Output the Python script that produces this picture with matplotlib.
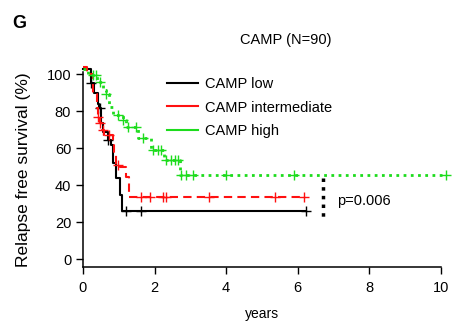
import matplotlib
matplotlib.use("Agg")
import matplotlib.pyplot as plt
from matplotlib.lines import Line2D
import numpy as np

plt.rcParams['font.family'] = ['Liberation Sans', 'DejaVu Sans']

# step curves (time in years, survival %)
low_t = [0, 0.22, 0.32, 0.41, 0.46, 0.50, 0.55, 0.69, 0.78, 0.84, 0.93, 1.03, 1.09, 6.23]
low_s = [103, 95, 89.7, 84, 81.6, 73.5, 68.8, 64.3, 61.6, 51.9, 43.8, 34.6, 26.0, 26.0]
low_cens = [0.23, 0.47, 0.70, 1.19, 1.61, 6.23]

mid_t = [0, 0.10, 0.28, 0.38, 0.42, 0.47, 0.52, 0.60, 0.84, 0.88, 0.93, 1.03, 1.21, 1.30, 6.17]
mid_s = [104, 100, 89.5, 81.5, 76.9, 73.4, 69.7, 67.0, 62.5, 57.0, 50.8, 49.9, 44.5, 33.5, 33.5]
mid_cens = [0.42, 0.47, 0.56, 0.74, 0.98, 1.62, 1.86, 2.24, 2.33, 3.52, 5.38, 6.17]

high_t = [0, 0.14, 0.40, 0.56, 0.65, 0.74, 0.84, 1.12, 1.21, 1.53, 1.91, 2.26, 2.72, 10.16]
high_s = [103, 99.5, 95.5, 91.4, 89.5, 82.3, 77.8, 75.0, 71.5, 65.2, 58.9, 53.5, 45.4, 45.4]
high_cens = [0.28, 0.37, 0.47, 0.65, 0.98, 1.12, 1.26, 1.49, 1.68, 1.96, 2.09, 2.19,
             2.33, 2.47, 2.56, 2.65, 2.75, 2.89, 3.07, 3.99, 5.91, 10.16]

labels = ["CAMP low", "CAMP intermediate", "CAMP high"]
colors = ["black", "#ff1010", "#1ddc1d"]


def level_at(t, s, x):
    i = np.searchsorted(t, x, side="right") - 1
    return s[max(i, 0)]


fig = plt.figure(figsize=(4.61, 3.24), dpi=100)
ax = fig.add_axes([0.180, 0.176, 0.776, 0.601])

styles = [dict(ls="-", lw=1.5), dict(ls=(0, (4, 2.5)), lw=1.5), dict(ls=(0, (1, 1.6)), lw=2)]
curves = [(low_t, low_s, low_cens), (mid_t, mid_s, mid_cens), (high_t, high_s, high_cens)]
for (t, s, c), col, st in zip(curves, colors, styles):
    ax.step(t, s, where="post", color=col, clip_on=False, **st)
    cy = [level_at(t, s, x) for x in c]
    ax.plot(c, cy, ls="none", marker="+", ms=7, mew=1, color=col, clip_on=False)

ax.set_xlim(0, 10)
ax.set_ylim(-4.3, 101)
ax.set_xticks([0, 2, 4, 6, 8, 10])
ax.set_yticks([0, 20, 40, 60, 80, 100])
ax.spines['top'].set_visible(False)
ax.spines['right'].set_visible(False)
ax.spines['left'].set_bounds(-4.3, 101)
ax.tick_params(labelsize=10.5, length=5, width=1, direction="out")
ax.tick_params(axis="x", pad=5)
for sp in ax.spines.values():
    sp.set_linewidth(1.1)

ax.set_xlabel("years", fontsize=10, labelpad=9)
ax.set_ylabel("Relapse free survival (%)", fontsize=12.5, labelpad=11)
ax.set_title("CAMP (N=90)", fontsize=10.5, pad=20, x=0.567)
fig.text(0.026, 0.915, "G", fontsize=13, fontweight="bold")

# p-value marker
ax.plot([6.72, 6.72], [44, 21], color="black", ls=(0, (1, 1.5)), lw=2.5)
ax.text(7.1, 31.5, "p=0.006", fontsize=10.5, va="center")

handles = [Line2D([], [], color=c, lw=1.5) for c in colors]
ax.legend(handles, labels, loc="upper left", bbox_to_anchor=(0.198, 1.045),
          frameon=False, fontsize=10.5, handlelength=2.1, handletextpad=0.5,
          labelspacing=0.68)

fig.savefig("out.png", dpi=100)
